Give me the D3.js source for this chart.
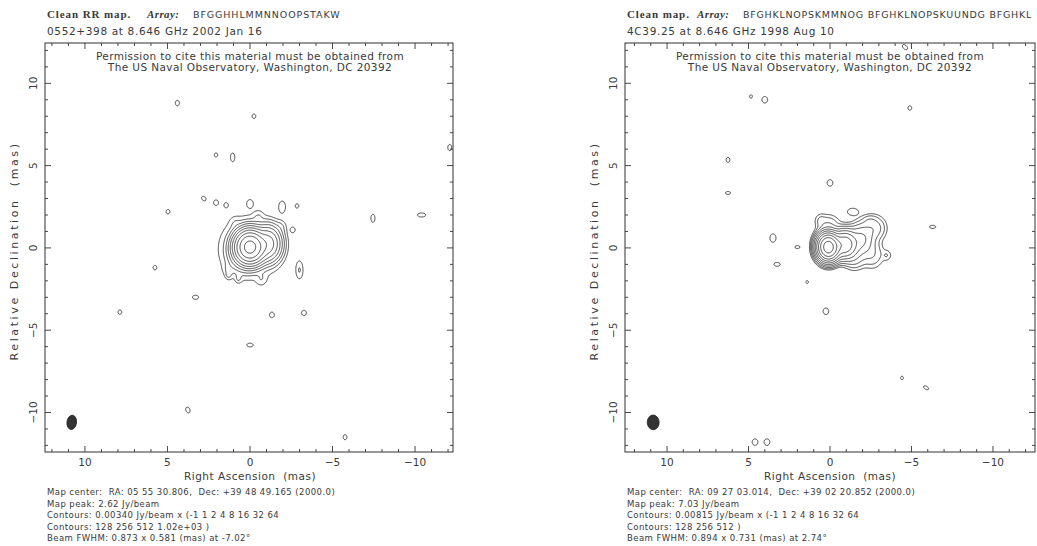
<!DOCTYPE html>
<html><head><meta charset="utf-8">
<script src="https://cdn.jsdelivr.net/npm/d3@7"></script>
<style>
body{margin:0;background:#fff}
svg{display:block}
text{font-family:"DejaVu Sans",sans-serif;fill:#3a3a3a}
</style>
</head><body><svg id="c" width="1037" height="546"></svg>
<script>
// ---------- shared axis data ----------
const majorTicks = [10, 5, 0, -5, -10];
const minorTicks = d3.range(-12, 13, 1);
const contourMultipliers = [1, 2, 4, 8, 16, 32, 64, 128, 256, 512, 1024];
const permissionText = ["Permission to cite this material must be obtained from",
                        "The US Naval Observatory, Washington, DC 20392"];

// ---------- left map: 0552+398 ----------
const leftTitleBold = ["Clean RR map.", "Array:"];
const leftTitleArray = "BFGGHHLMMNNOOPSTAKW";
const leftTitle2 = "0552+398 at 8.646 GHz 2002 Jan 16";
const leftFooter = ["Map center:  RA: 05 55 30.806,  Dec: +39 48 49.165 (2000.0)",
                    "Map peak: 2.62 Jy/beam",
                    "Contours: 0.00340 Jy/beam x (-1 1 2 4 8 16 32 64",
                    "Contours: 128 256 512 1.02e+03 )",
                    "Beam FWHM: 0.873 x 0.581 (mas) at -7.02\u00b0"];
const leftBase = 0.0034;
const leftBeam = [0.873, 0.581, -7.02];        // major, minor, PA
const leftBeamPos = [10.8, -10.6];
const leftCompRA   = [0.0, -1.1, 0.0, 0.6, -0.5, -1.9, 1.3, -0.7, 0.9];
const leftCompDec  = [0.05, 0.25, 0.0, -0.5, 1.9, 1.3, -1.3, -1.9, 1.5];
const leftCompFlux = [2.35, 0.3, 0.01, 0.02, 0.004, 0.004, 0.004, 0.004, 0.003];
const leftCompMaj  = [1.1, 1.2, 3.0, 1.2, 0.6, 0.6, 0.6, 0.6, 0.6];
const leftCompMin  = [1.0, 0.9, 3.0, 1.0, 0.5, 0.5, 0.5, 0.5, 0.5];
const leftCompPA   = [0, 0, 0, 0, 0, 0, 0, 0, 0];
// faint isolated features (amplitude in units of the lowest contour)
const leftSpotRA  = [4.4, -0.24, 1.05, 2.06, 2.8, 2.06, 1.45, 0.0, -1.95, -2.85, 4.97, -7.45, -10.4, 5.76, -3.0, -2.6, 1.3, 0.7, 3.3, -1.33, -3.27, 7.88, 0.0, 3.76, -5.76, -12.1];
const leftSpotDec = [8.8, 8.0, 5.5, 5.65, 3.0, 2.75, 2.6, 2.7, 2.5, 2.55, 2.2, 1.8, 2.0, -1.2, -1.35, 1.1, -1.65, -1.85, -3.0, -4.07, -3.95, -3.9, -5.9, -9.85, -11.5, 6.1];
const leftSpotAmp = [1.6, 1.5, 1.7, 1.4, 1.5, 1.5, 1.4, 1.7, 1.8, 1.4, 1.5, 1.6, 1.6, 1.5, 2.0, 1.4, 1.5, 1.5, 1.6, 1.6, 1.6, 1.5, 1.5, 1.6, 1.5, 1.5];
const leftSpotMaj = [0.4, 0.35, 0.6, 0.35, 0.4, 0.4, 0.35, 0.45, 0.7, 0.35, 0.35, 0.6, 0.6, 0.35, 1.0, 0.35, 0.4, 0.4, 0.45, 0.4, 0.4, 0.35, 0.5, 0.45, 0.4, 0.5];
const leftSpotMin = [0.3, 0.3, 0.3, 0.3, 0.3, 0.35, 0.3, 0.35, 0.4, 0.3, 0.3, 0.3, 0.3, 0.3, 0.4, 0.3, 0.3, 0.3, 0.3, 0.35, 0.35, 0.3, 0.3, 0.3, 0.3, 0.3];
const leftSpotPA  = [0, 0, 0, 0, 45, 0, 0, 0, 0, 0, 0, 0, 90, 0, 0, 0, 0, 0, 90, 0, 0, 0, 90, 20, 0, 0];

// ---------- right map: 4C39.25 ----------
const rightTitleBold = ["Clean map.", "Array:"];
const rightTitleArray = "BFGHKLNOPSKMMNOG BFGHKLNOPSKUUNDG BFGHKL";
const rightTitle2 = "4C39.25 at 8.646 GHz 1998 Aug 10";
const rightFooter = ["Map center:  RA: 09 27 03.014,  Dec: +39 02 20.852 (2000.0)",
                     "Map peak: 7.03 Jy/beam",
                     "Contours: 0.00815 Jy/beam x (-1 1 2 4 8 16 32 64",
                     "Contours: 128 256 512 )",
                     "Beam FWHM: 0.894 x 0.731 (mas) at 2.74\u00b0"];
const rightBase = 0.00815;
const rightBeam = [0.894, 0.731, 2.74];
const rightBeamPos = [10.85, -10.6];
const rightCompRA   = [0.1, -0.9, -1.9, -2.7, -2.6, 0.1, -1.5, 0.6, -2.4];
const rightCompDec  = [0.05, 0.2, 0.5, 1.2, -0.4, 1.4, -0.6, 1.7, 1.7];
const rightCompFlux = [6.3, 0.9, 0.15, 0.05, 0.03, 0.03, 0.04, 0.012, 0.012];
const rightCompMaj  = [0.9, 1.0, 1.2, 1.0, 1.2, 1.0, 1.0, 0.6, 0.7];
const rightCompMin  = [0.75, 0.9, 1.0, 1.0, 1.0, 0.9, 0.9, 0.5, 0.5];
const rightCompPA   = [3, 0, 0, 0, 0, 90, 0, 0, 90];
const rightSpotRA  = [4.85, 4.0, -4.9, 6.26, 6.26, 0.0, -1.4, 3.5, 3.25, -6.3, 1.4, 0.25, -4.42, -5.9, 4.6, 3.87, -4.6, 2.0, -3.5];
const rightSpotDec = [9.2, 9.0, 8.5, 5.35, 3.34, 3.95, 2.2, 0.6, -1.0, 1.28, -2.07, -3.85, -7.9, -8.5, -11.8, -11.8, 12.2, 0.05, -0.45];
const rightSpotAmp = [1.4, 1.7, 1.5, 1.5, 1.4, 1.7, 1.8, 1.8, 1.5, 1.5, 1.3, 1.7, 1.4, 1.5, 1.7, 1.7, 1.5, 1.4, 1.7];
const rightSpotMaj = [0.3, 0.45, 0.35, 0.4, 0.45, 0.45, 0.7, 0.55, 0.5, 0.5, 0.3, 0.45, 0.3, 0.45, 0.45, 0.45, 0.5, 0.45, 0.5];
const rightSpotMin = [0.25, 0.4, 0.3, 0.3, 0.25, 0.4, 0.45, 0.4, 0.3, 0.25, 0.25, 0.4, 0.25, 0.25, 0.4, 0.4, 0.3, 0.25, 0.45];
const rightSpotPA  = [0, 0, 0, 0, 90, 0, 90, 0, 90, 90, 0, 0, 0, 60, 0, 0, 45, 90, 0];

// ---------- helpers ----------
const svg = d3.select("#c");
svg.append("rect").attr("width", 1037).attr("height", 546).attr("fill", "#fff");

function buildComps(ra, dec, flux, maj, min, pa) {
  return ra.map((r, i) => ({ra: r, dec: dec[i], flux: flux[i], maj: maj[i], min: min[i], pa: pa[i]}));
}

function gridValues(comps, raMax, raMin, decMax, decMin, step) {
  const n = Math.ceil((raMax - raMin) / step) + 1, m = Math.ceil((decMax - decMin) / step) + 1;
  const v = new Array(n * m).fill(0);
  const k = 4 * Math.LN2;
  comps.forEach(c => {
    const p = c.pa * Math.PI / 180, s = Math.sin(p), co = Math.cos(p);
    const R = Math.max(c.maj, c.min) * 2.5;
    const i0 = Math.max(0, Math.floor((raMax - (c.ra + R)) / step)), i1 = Math.min(n - 1, Math.ceil((raMax - (c.ra - R)) / step));
    const j0 = Math.max(0, Math.floor((decMax - (c.dec + R)) / step)), j1 = Math.min(m - 1, Math.ceil((decMax - (c.dec - R)) / step));
    for (let j = j0; j <= j1; j++) {
      const dy = decMax - j * step - c.dec;
      for (let i = i0; i <= i1; i++) {
        const dx = raMax - i * step - c.ra;
        const u = dx * s + dy * co, w = dx * co - dy * s;
        v[j * n + i] += c.flux * Math.exp(-k * (u * u / (c.maj * c.maj) + w * w / (c.min * c.min)));
      }
    }
  });
  return {v, n, m};
}

function drawPanel(cfg) {
  const g = svg.append("g");
  const xs = d3.scaleLinear().domain(cfg.xDomain).range([cfg.x0, cfg.x1]);
  const ys = d3.scaleLinear().domain(cfg.yDomain).range([cfg.y1, cfg.y0]);

  // titles
  const t1 = g.append("text").attr("y", 18);
  t1.append("tspan").attr("x", cfg.x0 + 2).attr("font-family", "Liberation Serif").attr("font-weight", "bold")
    .attr("font-size", 11).attr("letter-spacing", 0.9).text(cfg.titleBold[0]);
  t1.append("tspan").attr("x", cfg.x0 + cfg.arrayOffset).attr("font-family", "Liberation Serif").attr("font-weight", "bold")
    .attr("font-style", "italic").attr("font-size", 11).attr("letter-spacing", 0.4).text(cfg.titleBold[1]);
  t1.append("tspan").attr("x", cfg.x0 + cfg.arrayOffset + 46).attr("font-size", 9.5).attr("letter-spacing", cfg.arraySpacing).text(cfg.titleArray);
  g.append("text").attr("x", cfg.x0 + 2).attr("y", 35).attr("font-size", 10.5).attr("letter-spacing", 0.65).text(cfg.title2);

  // contours
  const step = 0.04;
  const raMax = cfg.xDomain[0], raMin = cfg.xDomain[1], decMax = cfg.yDomain[1], decMin = cfg.yDomain[0];
  const comps = buildComps(cfg.cRA, cfg.cDec, cfg.cFlux, cfg.cMaj, cfg.cMin, cfg.cPA)
    .concat(buildComps(cfg.sRA, cfg.sDec, cfg.sAmp.map(a => a * cfg.base), cfg.sMaj, cfg.sMin, cfg.sPA));
  const grid = gridValues(comps, raMax, raMin, decMax, decMin, step);
  const contours = d3.contours().size([grid.n, grid.m])
    .thresholds(contourMultipliers.map(l => l * cfg.base))(grid.v);
  const proj = d3.geoTransform({point: function(x, y) {
    this.stream.point(xs(raMax - (x - 0.5) * step), ys(decMax - (y - 0.5) * step));
  }});
  const path = d3.geoPath(proj);
  const clipId = "clip" + cfg.x0;
  g.append("clipPath").attr("id", clipId).append("rect")
    .attr("x", cfg.x0).attr("y", cfg.y0).attr("width", cfg.x1 - cfg.x0).attr("height", cfg.y1 - cfg.y0);
  g.append("g").attr("clip-path", `url(#${clipId})`).selectAll("path").data(contours).join("path")
    .attr("d", path).attr("fill", "none").attr("stroke", "#2a2a2a").attr("stroke-width", 0.85);

  // beam
  g.append("ellipse")
    .attr("cx", xs(cfg.beamPos[0])).attr("cy", ys(cfg.beamPos[1]))
    .attr("rx", Math.abs(xs(cfg.beam[1] / 2) - xs(0))).attr("ry", Math.abs(ys(cfg.beam[0] / 2) - ys(0)))
    .attr("transform", `rotate(${-cfg.beam[2]},${xs(cfg.beamPos[0])},${ys(cfg.beamPos[1])})`)
    .attr("fill", "#333").attr("stroke", "#222").attr("stroke-width", 0.8);

  // frame
  g.append("rect").attr("x", cfg.x0).attr("y", cfg.y0).attr("width", cfg.x1 - cfg.x0).attr("height", cfg.y1 - cfg.y0)
    .attr("fill", "none").attr("stroke", "#333").attr("stroke-width", 1);

  // ticks on four sides (inward)
  const tk = g.append("g").attr("stroke", "#333").attr("stroke-width", 0.9);
  minorTicks.forEach(t => {
    const len = (t % 5 === 0) ? 6 : 3;
    const px = xs(t), py = ys(t);
    if (px >= cfg.x0 && px <= cfg.x1) {
      tk.append("line").attr("x1", px).attr("x2", px).attr("y1", cfg.y1).attr("y2", cfg.y1 - len);
      tk.append("line").attr("x1", px).attr("x2", px).attr("y1", cfg.y0).attr("y2", cfg.y0 + len);
    }
    if (py >= cfg.y0 && py <= cfg.y1) {
      tk.append("line").attr("y1", py).attr("y2", py).attr("x1", cfg.x0).attr("x2", cfg.x0 + len);
      tk.append("line").attr("y1", py).attr("y2", py).attr("x1", cfg.x1).attr("x2", cfg.x1 - len);
    }
  });
  // tick labels
  majorTicks.forEach(t => {
    const lab = t < 0 ? "\u2212" + Math.abs(t) : String(t);
    g.append("text").attr("x", xs(t)).attr("y", cfg.y1 + 14).attr("text-anchor", "middle").attr("font-size", 10.5).text(lab);
    g.append("text").attr("transform", `translate(${cfg.x0 - 8},${ys(t)}) rotate(-90)`)
      .attr("text-anchor", "middle").attr("font-size", 10.5).text(lab);
  });
  // axis titles
  g.append("text").attr("x", xs(0)).attr("y", cfg.y1 + 28).attr("text-anchor", "middle").attr("font-size", 10.5)
    .attr("letter-spacing", 0.5).style("white-space", "pre").text("Right Ascension  (mas)");
  g.append("text").attr("transform", `translate(${cfg.x0 - 27},${ys(0) + 3}) rotate(-90)`).attr("text-anchor", "middle")
    .attr("font-size", 11).attr("letter-spacing", 2.6).style("white-space", "pre").text("Relative Declination  (mas)");

  // permission text
  permissionText.forEach((s, i) => {
    g.append("text").attr("x", xs(0)).attr("y", 60 + i * 11).attr("text-anchor", "middle")
      .attr("font-size", 10.5).attr("letter-spacing", 0.4).text(s);
  });

  // footer
  cfg.footer.forEach((s, i) => {
    g.append("text").attr("x", cfg.x0 + 2).attr("y", 495 + i * 11.6).attr("font-size", 8.5)
      .attr("letter-spacing", 0.43).style("white-space", "pre").text(s);
  });
}

drawPanel({
  x0: 45, x1: 453, y0: 43, y1: 452, xDomain: [12.42, -12.3], yDomain: [-12.4, 12.45], arrayOffset: 102, arraySpacing: 0.9,
  titleBold: leftTitleBold, titleArray: leftTitleArray, title2: leftTitle2, footer: leftFooter,
  base: leftBase, beam: leftBeam, beamPos: leftBeamPos,
  cRA: leftCompRA, cDec: leftCompDec, cFlux: leftCompFlux, cMaj: leftCompMaj, cMin: leftCompMin, cPA: leftCompPA,
  sRA: leftSpotRA, sDec: leftSpotDec, sAmp: leftSpotAmp, sMaj: leftSpotMaj, sMin: leftSpotMin, sPA: leftSpotPA
});
drawPanel({
  x0: 625, x1: 1035, y0: 43, y1: 452, xDomain: [12.58, -12.58], yDomain: [-12.4, 12.45], arrayOffset: 72, arraySpacing: 0.75,
  titleBold: rightTitleBold, titleArray: rightTitleArray, title2: rightTitle2, footer: rightFooter,
  base: rightBase, beam: rightBeam, beamPos: rightBeamPos,
  cRA: rightCompRA, cDec: rightCompDec, cFlux: rightCompFlux, cMaj: rightCompMaj, cMin: rightCompMin, cPA: rightCompPA,
  sRA: rightSpotRA, sDec: rightSpotDec, sAmp: rightSpotAmp, sMaj: rightSpotMaj, sMin: rightSpotMin, sPA: rightSpotPA
});
</script>
</body></html>
